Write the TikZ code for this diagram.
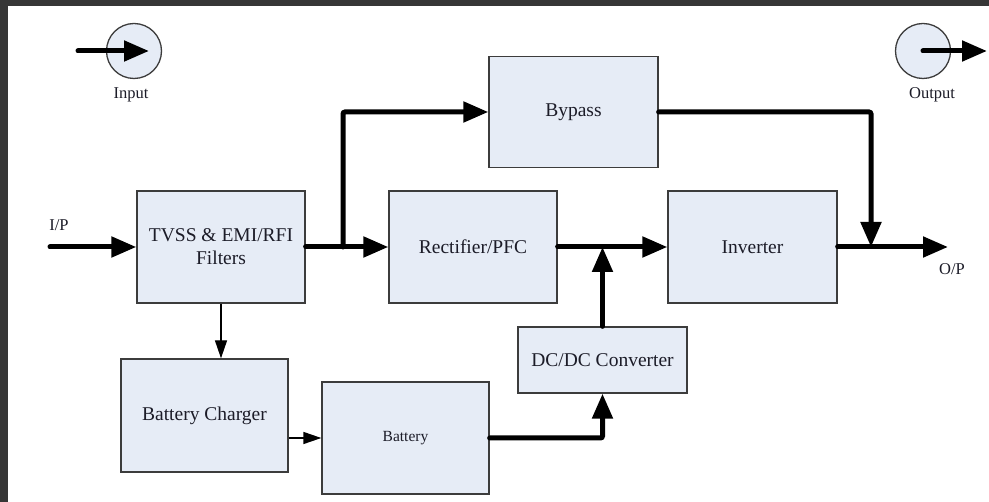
\documentclass[tikz,border=0pt]{standalone}
\usepackage{fontspec}
\setmainfont{Liberation Serif}
\usetikzlibrary{arrows.meta}
\definecolor{boxfill}{HTML}{E6ECF6}
\definecolor{boxline}{HTML}{3C3C3C}
\definecolor{frame}{HTML}{363636}
\definecolor{txt}{HTML}{1C1C28}
\tikzset{
  blk/.style={draw=boxline, line width=1.3pt, fill=boxfill, rectangle, inner sep=0pt, align=center, text=txt,
     font=\fontsize{19.5}{23}\selectfont},
  portc/.style={draw=boxline, line width=1.3pt, fill=boxfill, circle, inner sep=0pt, minimum size=55pt},
  lbl/.style={text=txt, inner sep=0pt, font=\fontsize{16.5}{19}\selectfont},
  bigarrow/.style={line width=5pt, draw=black, line cap=round, rounded corners=2pt, -{Triangle[length=25pt,width=20pt]}},
  thinarrow/.style={line width=1.3pt, draw=black, -{Triangle[length=18pt,width=12pt]}},
}
\begin{document}
\begin{tikzpicture}[x=1pt,y=-1pt]
\useasboundingbox (0,0) rectangle (989,502);
\fill[white] (0,0) rectangle (989,502);
\fill[frame] (0,0) rectangle (989,6);
\fill[frame] (0,0) rectangle (8,502);

% blocks
\node[blk, minimum width=169pt, minimum height=111pt] (bypass) at (573.5,112) {Bypass};
\node[blk, minimum width=168pt, minimum height=112pt] (tvss) at (221,247) {TVSS \& EMI/RFI\\Filters};
\node[blk, minimum width=168pt, minimum height=112pt] (rect) at (473,247) {Rectifier/PFC};
\node[blk, minimum width=169pt, minimum height=112pt] (inv) at (752.5,247) {Inverter};
\node[blk, minimum width=169pt, minimum height=66pt] (dcdc) at (602.5,360) {DC/DC Converter};
\node[blk, minimum width=167pt, minimum height=113pt] (charger) at (204.5,415.5) {Battery Charger};
\node[blk, minimum width=167pt, minimum height=112pt, font=\fontsize{15.5}{18}\selectfont] (batt) at (405.5,438) {Battery};

% ports
\node[portc] (inc) at (134,51) {};
\node[portc] (outc) at (923,51) {};
\node[lbl] (inlbl) at (131,95) {Input};
\node[lbl] (outlbl) at (932,95) {Output};
\node[lbl] (iplbl) at (59,225) {I/P};
\node[lbl] (oplbl) at (952,269) {O/P};

\coordinate (inA) at (78,51);
\coordinate (inB) at (149,51);
\coordinate (outB) at (987,51);
\coordinate (ipA) at (50,247);
\coordinate (j1) at (343,247);
\coordinate (j2) at (871,247);
\coordinate (opB) at (948,247);

% connectors
\draw[bigarrow] (inA) -- (inB);
\draw[bigarrow] (outc.center) -- (outB);
\draw[bigarrow] (ipA) -- (tvss.west);
\draw[bigarrow] (tvss.east) -- (rect.west);
\draw[bigarrow] (j1) |- (bypass.west);
\draw[bigarrow] (bypass.east) -| (j2);
\draw[bigarrow] (rect.east) -- (inv.west);
\draw[bigarrow] (inv.east) -- (opB);
\draw[bigarrow] (dcdc.north) -- (dcdc.north |- rect.east);
\draw[bigarrow] (batt.east) -| (dcdc.south);
\draw[thinarrow] (tvss.south) -- (tvss.south |- charger.north);
\draw[thinarrow] (charger.east |- batt.west) -- (batt.west);
\end{tikzpicture}
\end{document}
